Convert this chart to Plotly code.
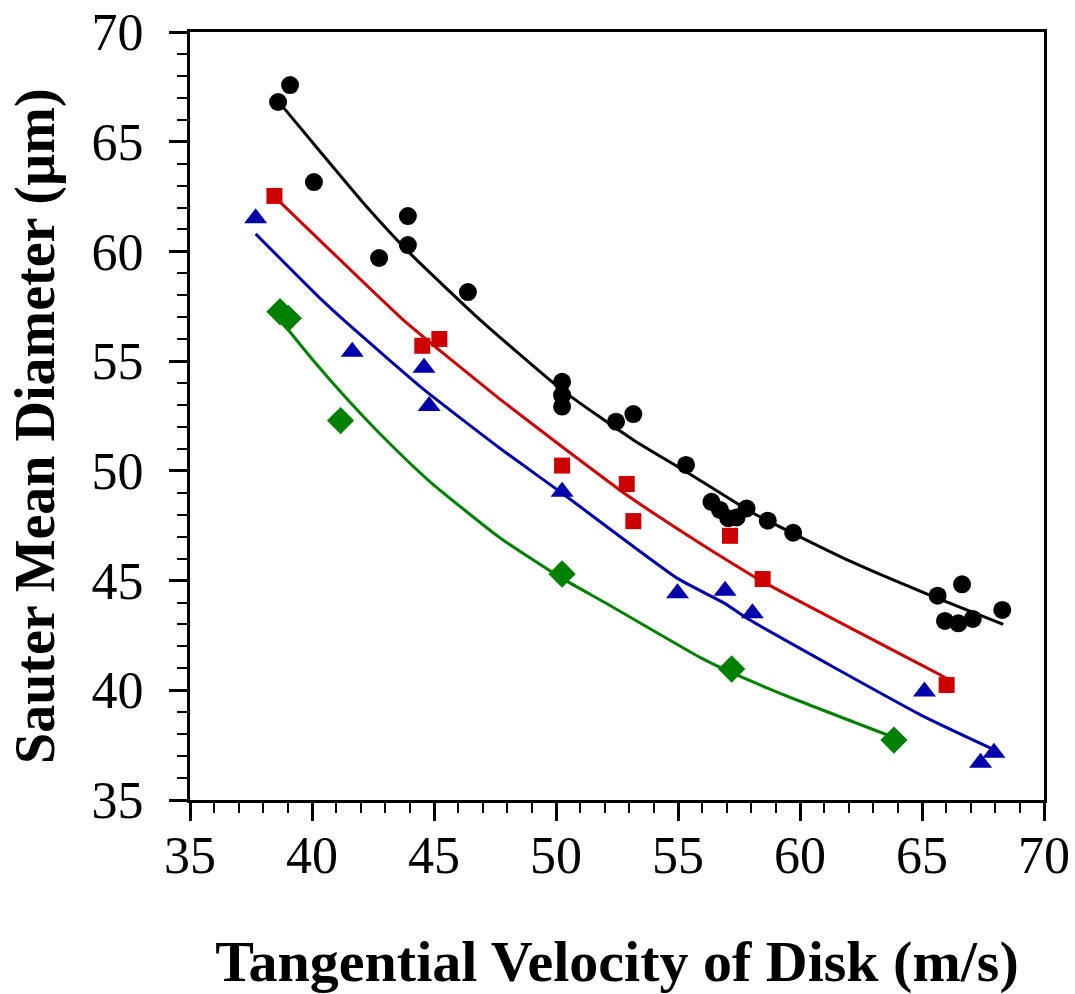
import plotly.graph_objects as go

# ---- data ----
black_x = [38.61, 39.10, 40.08, 42.75, 43.93, 43.93, 46.39, 50.25, 50.25, 50.25,
           52.46, 53.17, 55.33, 56.37, 56.72, 57.06, 57.40, 57.81, 58.68, 59.72,
           65.64, 65.94, 66.49, 66.64, 67.08, 68.29]
black_y = [66.81, 67.58, 63.16, 59.70, 61.61, 60.29, 58.15, 54.06, 53.45, 52.93,
           52.24, 52.59, 50.27, 48.59, 48.22, 47.84, 47.88, 48.29, 47.73, 47.18,
           44.31, 43.16, 43.05, 44.83, 43.25, 43.66]

red_x = [38.46, 44.52, 45.22, 50.25, 52.90, 53.17, 57.13, 58.47, 66.01]
red_y = [62.53, 55.70, 56.01, 50.24, 49.40, 47.71, 47.04, 45.07, 40.24]

blue_x = [37.69, 41.65, 44.59, 44.80, 50.25, 54.98, 56.93, 58.05, 65.10, 67.95, 67.40]
blue_y = [61.51, 55.43, 54.70, 52.96, 49.05, 44.42, 44.54, 43.51, 39.94, 37.15, 36.70]

green_x = [38.69, 39.03, 41.17, 50.25, 57.20, 63.85]
green_y = [57.25, 56.95, 52.29, 45.30, 40.97, 37.73]

# fitted curves
black_fit_x = [38.80, 40.05, 42.24, 44.02, 46.89, 50.25, 53.17, 55.35, 58.09, 62.10, 65.46, 68.33]
black_fit_y = [66.60, 64.93, 62.04, 59.91, 56.88, 53.68, 51.41, 49.95, 48.07, 45.86, 44.27, 43.00]

red_fit_x = [38.46, 43.74, 45.22, 47.70, 50.25, 52.90, 55.90, 57.13, 58.47, 66.01]
red_fit_y = [62.50, 56.88, 55.50, 53.27, 51.10, 48.90, 46.70, 45.85, 44.95, 40.55]

blue_fit_x = [37.69, 40.39, 41.42, 44.59, 47.70, 50.25, 54.98, 56.93, 57.95, 64.96, 67.92]
blue_fit_y = [60.80, 57.80, 56.75, 53.70, 51.03, 48.98, 45.10, 43.95, 43.20, 38.87, 37.31]

green_fit_x = [38.90, 40.00, 41.42, 43.00, 44.84, 47.70, 50.25, 52.00, 55.90, 57.20, 60.00, 63.85]
green_fit_y = [56.60, 55.10, 53.30, 51.45, 49.50, 46.95, 45.10, 44.00, 41.50, 40.80, 39.50, 37.85]

x_ticks = [35, 40, 45, 50, 55, 60, 65, 70]
y_ticks = [35, 40, 45, 50, 55, 60, 65, 70]

x_title = "Tangential Velocity of Disk (m/s)"
y_title = "Sauter Mean Diameter (µm)"

BLACK = "#000000"
RED = "#CC0000"
BLUE = "#0000AA"
GREEN = "#008000"

fig = go.Figure()

for fx, fy, col in [(black_fit_x, black_fit_y, BLACK), (red_fit_x, red_fit_y, RED),
                    (blue_fit_x, blue_fit_y, BLUE), (green_fit_x, green_fit_y, GREEN)]:
    fig.add_trace(go.Scatter(x=fx, y=fy, mode="lines",
                             line=dict(color=col, width=3, shape="spline", smoothing=0.5),
                             showlegend=False, hoverinfo="skip"))

fig.add_trace(go.Scatter(x=black_x, y=black_y, mode="markers",
                         marker=dict(symbol="circle", size=18, color=BLACK), showlegend=False))
fig.add_trace(go.Scatter(x=red_x, y=red_y, mode="markers",
                         marker=dict(symbol="square", size=16, color=RED), showlegend=False))
fig.add_trace(go.Scatter(x=blue_x, y=blue_y, mode="markers",
                         marker=dict(symbol="triangle-up", size=20, color=BLUE), showlegend=False))
fig.add_trace(go.Scatter(x=green_x, y=green_y, mode="markers",
                         marker=dict(symbol="diamond", size=21, color=GREEN), showlegend=False))

axis_common = dict(
    showline=True, linecolor="black", linewidth=3, mirror=True,
    ticks="outside", ticklen=18, tickwidth=3, tickcolor="black",
    showgrid=False, zeroline=False,
    tickfont=dict(family="Liberation Serif", size=52, color="black"),
    minor=dict(ticks="outside", ticklen=10, tickwidth=1.5, tickcolor="black", dtick=1, showgrid=False),
)

fig.update_xaxes(range=[35, 70], tickvals=x_ticks, ticktext=[str(v) for v in x_ticks],
                 title=dict(text="<b>" + x_title + "</b>",
                            font=dict(family="Liberation Serif", size=58, color="black"), standoff=66),
                 ticklabelstandoff=-10, **axis_common)
fig.update_yaxes(range=[35, 70], tickvals=y_ticks, ticktext=[str(v) for v in y_ticks],
                 ticklabelstandoff=15, **axis_common)

fig.add_annotation(text="<b>" + y_title + "</b>", textangle=-90,
                   xref="paper", yref="paper", x=0, y=0.5, xanchor="center", yanchor="middle",
                   xshift=-155, yshift=-10, showarrow=False,
                   font=dict(family="Liberation Serif", size=56, color="black"))

fig.update_layout(width=1075, height=994, margin=dict(l=190, r=31, t=32, b=194, autoexpand=False),
                  plot_bgcolor="white", paper_bgcolor="white")

fig.write_html("out.html", config={"displayModeBar": False},
               post_script="document.body.style.margin='0';")
